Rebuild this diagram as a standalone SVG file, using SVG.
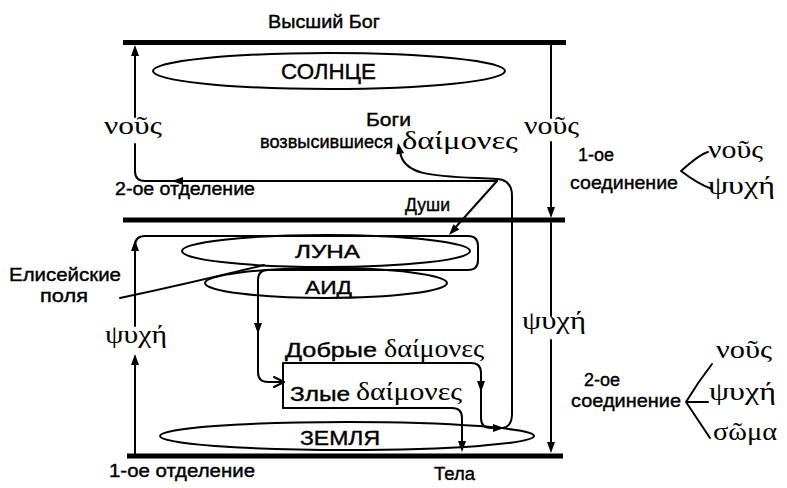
<svg xmlns="http://www.w3.org/2000/svg" width="787" height="488" viewBox="0 0 787 488">
<style>
.bar{stroke:#000;stroke-width:5;fill:none}
.ln{stroke:#000;stroke-width:2;fill:none;stroke-linecap:round;stroke-linejoin:round}
.ell{stroke:#000;stroke-width:2;fill:none}
.ah{fill:#000;stroke:none}
.cy{font-family:"Liberation Sans","Arial",sans-serif;fill:#000;stroke:#000;stroke-width:0.4}
.gr{font-family:"Liberation Serif","DejaVu Serif",serif;font-size:25px;fill:#000}
</style>
<defs>
<path id="ahU" d="M0,0 L-4,11 L4,11 Z"/>
</defs>
<rect width="787" height="488" fill="#fff"/>

<g id="levels">
<line class="bar" x1="123" y1="42.5" x2="566" y2="42.5"/>
<line class="bar" x1="123" y1="220" x2="565" y2="220"/>
<line class="bar" x1="127" y1="456" x2="563" y2="456"/>
</g>

<g id="sun"><ellipse class="ell" cx="329" cy="71" rx="176" ry="18"/>
<text class="cy" x="281" y="79" font-size="22" textLength="95" lengthAdjust="spacingAndGlyphs">СОЛНЦЕ</text></g>
<g id="moon"><ellipse class="ell" cx="326" cy="251" rx="144" ry="16"/>
<text class="cy" x="295" y="258" font-size="19" textLength="65" lengthAdjust="spacingAndGlyphs">ЛУНА</text></g>
<g id="hades"><ellipse class="ell" cx="326" cy="283" rx="121" ry="15"/>
<text class="cy" x="305" y="294" font-size="19" textLength="47" lengthAdjust="spacingAndGlyphs">АИД</text></g>
<g id="earth"><ellipse class="ell" cx="347" cy="436" rx="187" ry="14"/>
<text class="cy" x="300" y="445" font-size="20" textLength="80" lengthAdjust="spacingAndGlyphs">ЗЕМЛЯ</text></g>

<g id="connectors">
<path class="ln" d="M497 181 L145 181 Q135 181 135 171 L135 144 M135 117 L135 52"/>
<use href="#ahU" x="135" y="45"/>
<polygon class="ah" points="172,181 183,177 183,185"/>
<path class="ln" d="M551 45 L551 118 M551 142 L551 210"/>
<use href="#ahU" transform="translate(551,218) rotate(180)"/>
<path class="ln" d="M551 223 L551 316 M551 340 L551 446"/>
<use href="#ahU" transform="translate(551,453) rotate(180)"/>
<path class="ln" d="M497 181 L454 229"/>
<use href="#ahU" transform="translate(449,235) rotate(-138)"/>
<path class="ln" d="M503 428 Q512 426 512 414 L512 196 Q512 180 497 179 C440 176 404 178 400 152"/>
<use href="#ahU" transform="translate(398,143) rotate(-12)"/>
<path class="ln" d="M135 455 L135 362"/>
<use href="#ahU" x="135" y="354"/>
<path class="ln" d="M135 326 L135 246 Q135 236 145 236 L468 236 Q478 236 478 246 L478 260 Q478 270 468 270 L268 270 Q258 270 258 280 L258 372 Q258 382 268 382 L283 382"/>
<use href="#ahU" x="135" y="240"/>
<use href="#ahU" transform="translate(258,334) rotate(180)"/>
<path class="ln" d="M274 377 L284 382 L274 387"/>
<path class="ln" stroke-width="2.5" d="M120 298 Q190 283 264 265"/>
<path class="ln" d="M283 408 L283 363 L471 363 Q481 363 481 373 L481 418 Q481 428 491 428 L496 428"/>
<use href="#ahU" transform="translate(481,392) rotate(180)"/>
<use href="#ahU" transform="translate(504,428) rotate(90)"/>
<path class="ln" d="M283 408 L452 408 Q462 408 462 418 L462 444"/>
<use href="#ahU" transform="translate(462,452) rotate(180)"/>
<path class="ln" d="M708 152 Q700 154 681 171 Q698 184 712 189"/>
<path class="ln" d="M712 364 Q698 382 686 402 Q698 420 710 438 M686 402 L708 402"/>
</g>

<g id="labels">
<text class="cy" x="268" y="28" font-size="19" textLength="112" lengthAdjust="spacingAndGlyphs">Высший  Бог</text>
<text class="gr" x="104" y="134" textLength="58" lengthAdjust="spacingAndGlyphs">νοῦς</text>
<text class="gr" x="524" y="134" textLength="55" lengthAdjust="spacingAndGlyphs">νοῦς</text>
<text class="cy" x="366" y="126" font-size="19" textLength="45" lengthAdjust="spacingAndGlyphs">Боги</text>
<text class="cy" x="260" y="148" font-size="18" textLength="133" lengthAdjust="spacingAndGlyphs">возвысившиеся</text>
<text class="gr" x="402" y="149" textLength="116" lengthAdjust="spacingAndGlyphs">δαίμονες</text>
<text class="cy" x="115" y="195" font-size="18" textLength="140" lengthAdjust="spacingAndGlyphs">2-ое  отделение</text>
<text class="cy" x="405" y="211" font-size="19" textLength="45" lengthAdjust="spacingAndGlyphs">Души</text>
<text class="cy" x="578" y="161" font-size="18" textLength="36" lengthAdjust="spacingAndGlyphs">1-ое</text>
<text class="cy" x="570" y="189" font-size="19" textLength="108" lengthAdjust="spacingAndGlyphs">соединение</text>
<text class="gr" x="708" y="158" textLength="55" lengthAdjust="spacingAndGlyphs">νοῦς</text>
<text class="gr" x="708" y="194" textLength="67" lengthAdjust="spacingAndGlyphs">ψυχή</text>
<text class="cy" x="9" y="281" font-size="19" textLength="112" lengthAdjust="spacingAndGlyphs">Елисейские</text>
<text class="cy" x="40" y="302" font-size="19" textLength="48" lengthAdjust="spacingAndGlyphs">поля</text>
<text class="gr" x="105" y="343" textLength="62" lengthAdjust="spacingAndGlyphs">ψυχή</text>
<text class="gr" x="522" y="329" textLength="64" lengthAdjust="spacingAndGlyphs">ψυχή</text>
<text class="cy" x="285" y="357" font-size="20" textLength="92" lengthAdjust="spacingAndGlyphs">Добрые</text>
<text class="gr" x="384" y="357" textLength="100" lengthAdjust="spacingAndGlyphs">δαίμονες</text>
<text class="cy" x="584" y="386" font-size="18" textLength="36" lengthAdjust="spacingAndGlyphs">2-ое</text>
<text class="cy" x="571" y="407" font-size="19" textLength="110" lengthAdjust="spacingAndGlyphs">соединение</text>
<text class="gr" x="716" y="358" textLength="56" lengthAdjust="spacingAndGlyphs">νοῦς</text>
<text class="gr" x="709" y="400" textLength="67" lengthAdjust="spacingAndGlyphs">ψυχή</text>
<text class="gr" x="713" y="440" textLength="64" lengthAdjust="spacingAndGlyphs">σῶμα</text>
<text class="cy" x="290" y="401" font-size="20" textLength="60" lengthAdjust="spacingAndGlyphs">Злые</text>
<text class="gr" x="356" y="400" textLength="106" lengthAdjust="spacingAndGlyphs">δαίμονες</text>
<text class="cy" x="109" y="477" font-size="18" textLength="146" lengthAdjust="spacingAndGlyphs">1-ое  отделение</text>
<text class="cy" x="434" y="480" font-size="18" textLength="41" lengthAdjust="spacingAndGlyphs">Тела</text>
</g>
</svg>
